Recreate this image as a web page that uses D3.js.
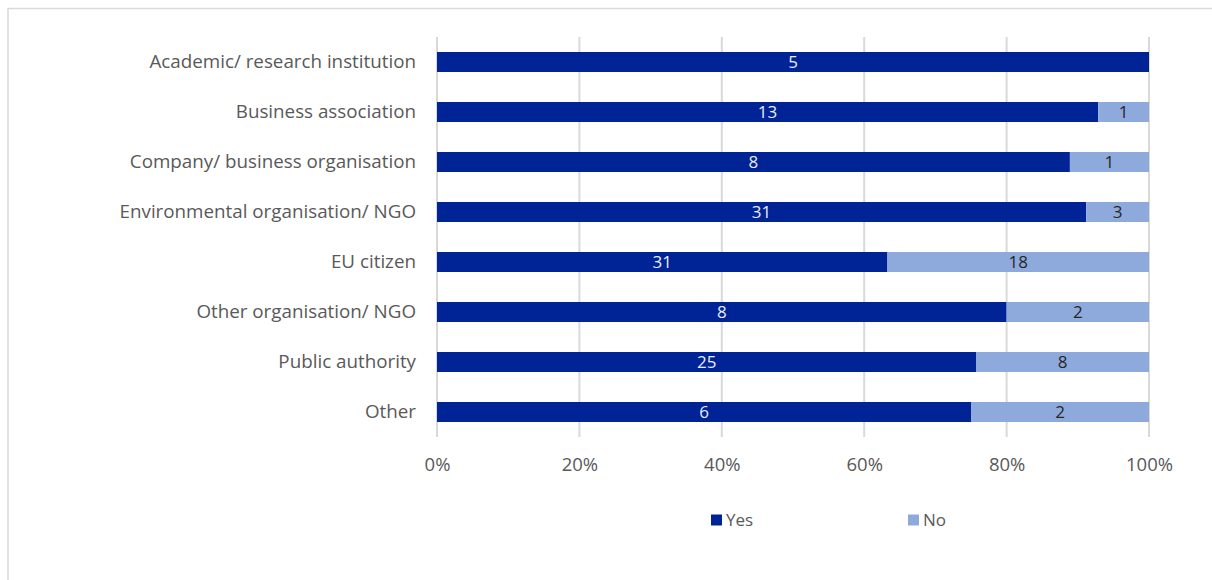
<!DOCTYPE html>
<html>
<head>
<meta charset="utf-8">
<script src="https://cdn.jsdelivr.net/npm/d3@7"></script>
<style>
  html, body { margin: 0; padding: 0; background: #fff; }
  svg { display: block; font-family: "Open Sans", "Liberation Sans", sans-serif; }
</style>
</head>
<body>
<svg id="chart" width="1212" height="580"></svg>
<script>
// Respondent groups and their Yes / No counts
const categories = [
  "Academic/ research institution",
  "Business association",
  "Company/ business organisation",
  "Environmental organisation/ NGO",
  "EU citizen",
  "Other organisation/ NGO",
  "Public authority",
  "Other"
];
const yesValues = [5, 13, 8, 31, 31, 8, 25, 6];
const noValues  = [0, 1, 1, 3, 18, 2, 8, 2];
const seriesNames = ["Yes", "No"];
const tickValues = [0, 0.2, 0.4, 0.6, 0.8, 1.0];

const colors = { Yes: "#002395", No: "#8eaadc" };
const labelColors = { Yes: "#e8ecf6", No: "#262626" };

const svg = d3.select("#chart");

// outer frame
svg.append("rect")
  .attr("x", 8).attr("y", 8.5)
  .attr("width", 1220).attr("height", 600)
  .attr("fill", "none").attr("stroke", "#d9d9d9").attr("stroke-width", 1.5);

const plot = { left: 437, right: 1149, top: 37, bottom: 437 };

const x = d3.scaleLinear().domain([0, 1]).range([plot.left, plot.right]);
const y = d3.scaleBand().domain(categories).range([plot.top, plot.bottom]).paddingInner(0.6).paddingOuter(0.3);

const rows = categories.map((c, i) => {
  const total = yesValues[i] + noValues[i];
  return { category: c, Yes: yesValues[i] / total, No: noValues[i] / total,
           YesN: yesValues[i], NoN: noValues[i] };
});
const stacked = d3.stack().keys(seriesNames)(rows);

// vertical gridlines
svg.append("g")
  .selectAll("line")
  .data(tickValues)
  .join("line")
  .attr("x1", d => x(d)).attr("x2", d => x(d))
  .attr("y1", plot.top).attr("y2", plot.bottom)
  .attr("stroke", "#d9d9d9").attr("stroke-width", 2);

// bars
const layers = svg.append("g")
  .selectAll("g")
  .data(stacked)
  .join("g")
  .attr("fill", d => colors[d.key]);

layers.selectAll("rect")
  .data(d => d.map(v => ({ key: d.key, v })))
  .join("rect")
  .attr("x", d => x(d.v[0]))
  .attr("y", d => y(d.v.data.category))
  .attr("width", d => x(d.v[1]) - x(d.v[0]))
  .attr("height", y.bandwidth());

// value labels
layers.selectAll("text")
  .data(d => d.map(v => ({ key: d.key, v })).filter(d => d.v.data[d.key + "N"] > 0))
  .join("text")
  .attr("x", d => (x(d.v[0]) + x(d.v[1])) / 2)
  .attr("y", d => y(d.v.data.category) + y.bandwidth() / 2)
  .attr("dy", "0.36em")
  .attr("text-anchor", "middle")
  .attr("font-size", 17)
  .attr("fill", d => labelColors[d.key])
  .text(d => d.v.data[d.key + "N"]);

// category axis
const yAxis = svg.append("g")
  .attr("transform", `translate(${plot.left},0)`)
  .call(d3.axisLeft(y).tickSize(0).tickPadding(21));
yAxis.select(".domain").remove();
yAxis.selectAll("text")
  .attr("font-size", 18.8)
  .attr("font-family", "Open Sans, Liberation Sans, sans-serif")
  .attr("fill", "#595959");

// percentage axis
const xAxis = svg.append("g")
  .attr("transform", `translate(0,${plot.bottom})`)
  .call(d3.axisBottom(x).tickValues(tickValues).tickFormat(d3.format(".0%")).tickSize(0).tickPadding(21));
xAxis.select(".domain").remove();
xAxis.selectAll("text")
  .attr("font-size", 18.5)
  .attr("font-family", "Open Sans, Liberation Sans, sans-serif")
  .attr("fill", "#595959");

// legend
const legendX = [711, 908];
const legend = svg.append("g")
  .selectAll("g")
  .data(seriesNames)
  .join("g")
  .attr("transform", (d, i) => `translate(${legendX[i]},520)`);
legend.append("rect")
  .attr("x", 0).attr("y", -5.5)
  .attr("width", 11).attr("height", 11)
  .attr("fill", d => colors[d]);
legend.append("text")
  .attr("x", 15).attr("dy", "0.36em")
  .attr("font-size", 17)
  .attr("fill", "#595959")
  .text(d => d);
</script>
</body>
</html>
